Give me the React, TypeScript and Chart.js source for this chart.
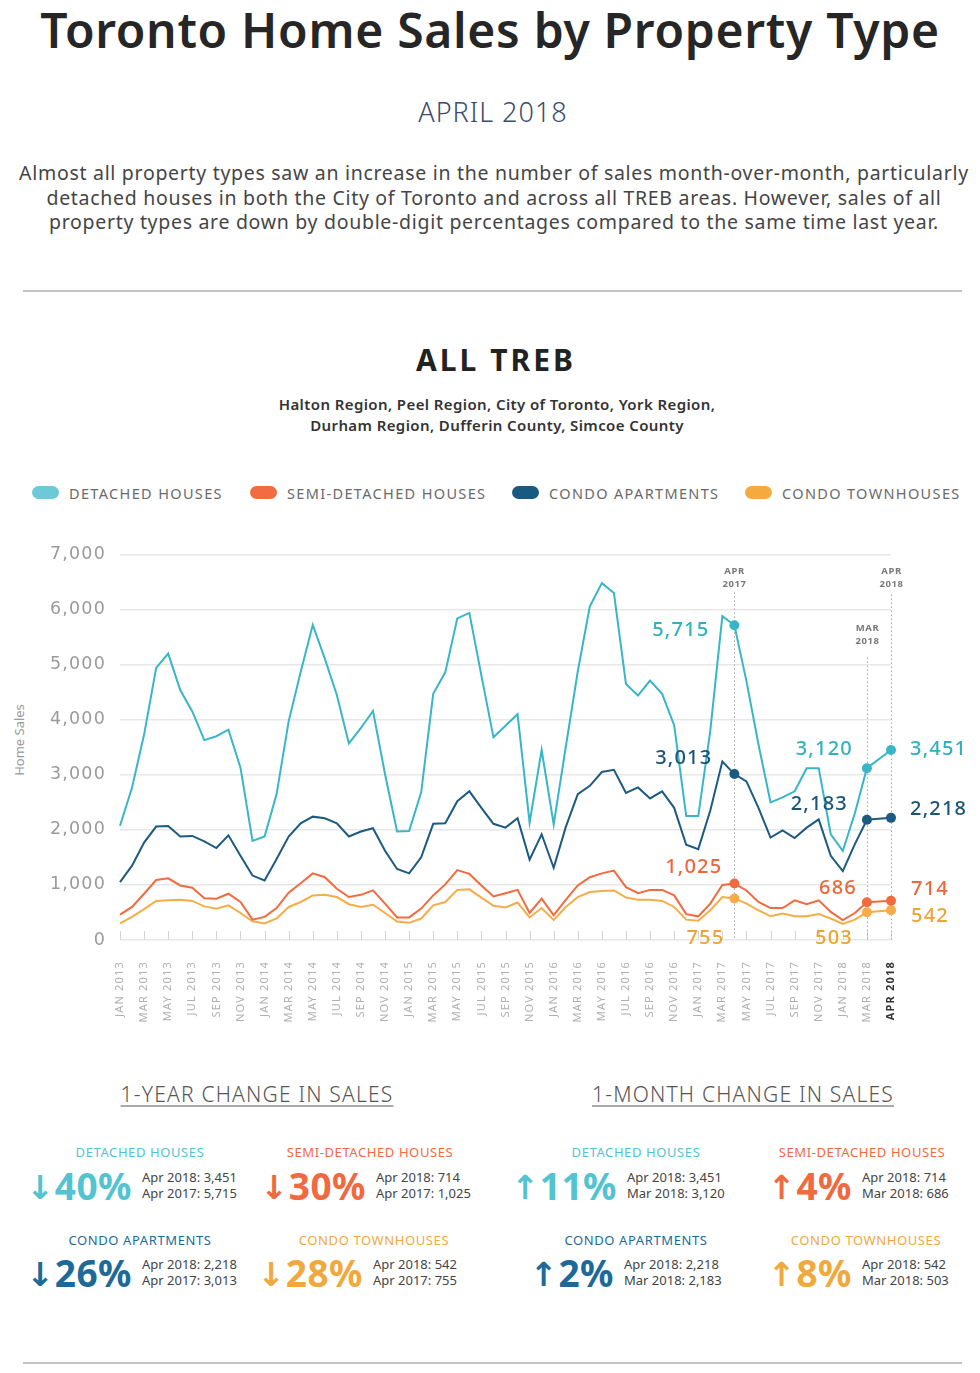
import React, { useEffect, useRef } from 'react';
import { Chart, registerables } from 'chart.js';

Chart.register(...registerables);

// ---------- DATA ----------
const MONTHS = [
  'JAN 2013', 'FEB 2013', 'MAR 2013', 'APR 2013', 'MAY 2013', 'JUN 2013', 'JUL 2013', 'AUG 2013', 'SEP 2013', 'OCT 2013', 'NOV 2013', 'DEC 2013',
  'JAN 2014', 'FEB 2014', 'MAR 2014', 'APR 2014', 'MAY 2014', 'JUN 2014', 'JUL 2014', 'AUG 2014', 'SEP 2014', 'OCT 2014', 'NOV 2014', 'DEC 2014',
  'JAN 2015', 'FEB 2015', 'MAR 2015', 'APR 2015', 'MAY 2015', 'JUN 2015', 'JUL 2015', 'AUG 2015', 'SEP 2015', 'OCT 2015', 'NOV 2015', 'DEC 2015',
  'JAN 2016', 'FEB 2016', 'MAR 2016', 'APR 2016', 'MAY 2016', 'JUN 2016', 'JUL 2016', 'AUG 2016', 'SEP 2016', 'OCT 2016', 'NOV 2016', 'DEC 2016',
  'JAN 2017', 'FEB 2017', 'MAR 2017', 'APR 2017', 'MAY 2017', 'JUN 2017', 'JUL 2017', 'AUG 2017', 'SEP 2017', 'OCT 2017', 'NOV 2017', 'DEC 2017',
  'JAN 2018', 'FEB 2018', 'MAR 2018', '', 'APR 2018',
];

const DETACHED = [
  2075, 2770, 3730, 4940, 5200, 4540, 4150, 3630, 3700, 3820, 3130, 1800,
  1880, 2650, 3970, 4870, 5720, 5110, 4450, 3570, 3850, 4160, 3010, 1970,
  1980, 2680, 4470, 4860, 5840, 5940, 4800, 3680, 3890, 4100, 2130, 3450,
  2100, 3500, 4880, 6060, 6480, 6300, 4650, 4440, 4710, 4470, 3900, 2250,
  2250, 3800, 5880, 5715, 4700, 3550, 2500, 2590, 2700, 3120, 3120, 1920,
  1620, 2300, 3120, null, 3451,
];

const SEMI_DETACHED = [
  460, 600, 840, 1090, 1120, 990, 950, 760, 750, 840, 690, 370,
  420, 580, 860, 1030, 1210, 1140, 930, 780, 820, 900, 660, 410,
  410, 570, 810, 1010, 1270, 1200, 990, 790, 850, 910, 490, 750,
  450, 730, 990, 1140, 1210, 1260, 960, 850, 910, 910, 810, 470,
  430, 660, 1000, 1025, 900, 690, 580, 580, 720, 650, 720, 510,
  360, 490, 686, null, 714,
];

const CONDO_APARTMENTS = [
  1050, 1350, 1770, 2060, 2070, 1880, 1890, 1790, 1670, 1900, 1530, 1170,
  1080, 1470, 1880, 2120, 2240, 2210, 2120, 1880, 1970, 2030, 1620, 1290,
  1210, 1500, 2110, 2120, 2520, 2700, 2400, 2110, 2040, 2210, 1460, 1920,
  1310, 2050, 2650, 2800, 3050, 3090, 2670, 2770, 2570, 2700, 2400, 1730,
  1650, 2350, 3240, 3013, 2880, 2400, 1860, 1990, 1850, 2040, 2190, 1530,
  1250, 1740, 2183, null, 2218,
];

const CONDO_TOWNHOUSES = [
  300, 420, 560, 710, 720, 730, 710, 610, 570, 630, 490, 340,
  300, 390, 600, 690, 810, 820, 780, 650, 600, 640, 490, 335,
  312, 390, 630, 690, 910, 920, 770, 620, 590, 680, 410, 580,
  360, 600, 780, 870, 890, 900, 770, 730, 730, 710, 600, 370,
  350, 540, 780, 755, 660, 540, 430, 480, 430, 430, 470, 390,
  290, 370, 503, null, 542,
];

const SERIES_NAMES = ['DETACHED HOUSES', 'SEMI-DETACHED HOUSES', 'CONDO APARTMENTS', 'CONDO TOWNHOUSES'];
const Y_TICKS = [0, 1000, 2000, 3000, 4000, 5000, 6000, 7000];

// indexes of highlighted months (Apr 2017, Mar 2018, Apr 2018)
const MARKED_INDEXES = [51, 62, 64];
const MARKER_LABELS = [['APR', '2017'], ['MAR', '2018'], ['APR', '2018']];

const YEAR_CHANGE = [
  { name: 'DETACHED HOUSES', arrow: '↓', pct: '40%', l1: 'Apr 2018: 3,451', l2: 'Apr 2017: 5,715' },
  { name: 'SEMI-DETACHED HOUSES', arrow: '↓', pct: '30%', l1: 'Apr 2018: 714', l2: 'Apr 2017: 1,025' },
  { name: 'CONDO APARTMENTS', arrow: '↓', pct: '26%', l1: 'Apr 2018: 2,218', l2: 'Apr 2017: 3,013' },
  { name: 'CONDO TOWNHOUSES', arrow: '↓', pct: '28%', l1: 'Apr 2018: 542', l2: 'Apr 2017: 755' },
];
const MONTH_CHANGE = [
  { name: 'DETACHED HOUSES', arrow: '↑', pct: '11%', l1: 'Apr 2018: 3,451', l2: 'Mar 2018: 3,120' },
  { name: 'SEMI-DETACHED HOUSES', arrow: '↑', pct: '4%', l1: 'Apr 2018: 714', l2: 'Mar 2018: 686' },
  { name: 'CONDO APARTMENTS', arrow: '↑', pct: '2%', l1: 'Apr 2018: 2,218', l2: 'Mar 2018: 2,183' },
  { name: 'CONDO TOWNHOUSES', arrow: '↑', pct: '8%', l1: 'Apr 2018: 542', l2: 'Mar 2018: 503' },
];

// ---------- STYLE ----------
const LINE_COLORS = ['#38b6c7', '#f26a3e', '#1c5a80', '#f6ad48'];
const LABEL_COLORS = ['#2fb1c3', '#f0653a', '#1b5479', '#eda436'];
const LEGEND_COLORS = ['#6ccad6', '#f26b42', '#1a5a82', '#f5aa40'];
const CARD_COLORS = ['#52c3d1', '#f0693f', '#1d6a98', '#f0a93c'];
const FONT = '"Noto Sans", "DejaVu Sans", sans-serif';
const WIDE_FONT = '"DejaVu Sans", sans-serif';

// value label placement: [datasetIndex, dataIndex, align, dx, dy]
const VALUE_LABEL_POS: [number, number, CanvasTextAlign, number, number][] = [
  [0, 51, 'right', -25, 5],
  [2, 51, 'right', -22, -16],
  [1, 51, 'right', -12, -16],
  [3, 51, 'right', -10, 40],
  [0, 62, 'right', -14, -19],
  [2, 62, 'right', -19, -15],
  [1, 62, 'right', -10, -14],
  [3, 62, 'right', -14, 26],
  [0, 64, 'left', 19, -1],
  [2, 64, 'left', 19, -9],
  [1, 64, 'left', 20, -11],
  [3, 64, 'left', 20, 6],
];
const MARKER_STYLE = [
  { lineTop: 38, labelTop: 17 },
  { lineTop: 103, labelTop: 74 },
  { lineTop: 40, labelTop: 17 },
];

const letterSpacingPlugin = {
  id: 'letterSpacing',
  beforeDraw(chart: any) {
    (chart.ctx as any).letterSpacing = '1.2px';
  },
  afterDraw(chart: any) {
    (chart.ctx as any).letterSpacing = '0px';
  },
};

const annotationPlugin = {
  id: 'annotations',
  beforeDatasetsDraw(chart: any) {
    const { ctx, chartArea, scales } = chart;
    const x = scales.x;
    ctx.save();
    (ctx as any).letterSpacing = '0px';
    // inward tick marks
    ctx.strokeStyle = '#d4d4d4';
    ctx.lineWidth = 1;
    for (let i = 0; i < MONTHS.length; i += 2) {
      const px = Math.round(x.getPixelForValue(i)) + 0.5;
      ctx.beginPath();
      ctx.moveTo(px, chartArea.bottom - 9);
      ctx.lineTo(px, chartArea.bottom);
      ctx.stroke();
    }
    // dotted marker lines
    MARKED_INDEXES.forEach((idx, k) => {
      const px = Math.round(x.getPixelForValue(idx)) + 0.5;
      ctx.strokeStyle = '#a8a8a8';
      ctx.setLineDash([1.5, 2.5]);
      ctx.beginPath();
      ctx.moveTo(px, chartArea.top + MARKER_STYLE[k].lineTop);
      ctx.lineTo(px, chartArea.bottom);
      ctx.stroke();
      ctx.setLineDash([]);
      ctx.fillStyle = '#7a7a7a';
      ctx.font = `bold 9.5px ${FONT}`;
      (ctx as any).letterSpacing = '0.6px';
      ctx.textAlign = 'center';
      ctx.textBaseline = 'middle';
      MARKER_LABELS[k].forEach((t, j) => {
        ctx.fillText(t, px, chartArea.top + MARKER_STYLE[k].labelTop + j * 13);
      });
      (ctx as any).letterSpacing = '0px';
    });
    ctx.restore();
  },
  afterDatasetsDraw(chart: any) {
    const { ctx } = chart;
    ctx.save();
    ctx.font = `500 20px ${FONT}`;
    (ctx as any).letterSpacing = '1.2px';
    ctx.textBaseline = 'middle';
    VALUE_LABEL_POS.forEach(([ds, idx, align, dx, dy]) => {
      const el = chart.getDatasetMeta(ds).data[idx];
      const v = chart.data.datasets[ds].data[idx];
      ctx.fillStyle = LABEL_COLORS[ds];
      ctx.textAlign = align;
      ctx.fillText(Number(v).toLocaleString('en-US'), el.x + dx, el.y + dy);
    });
    ctx.restore();
  },
};

function TreBChart() {
  const ref = useRef<HTMLCanvasElement>(null);
  useEffect(() => {
    if (!ref.current) return;
    const seriesData = [DETACHED, SEMI_DETACHED, CONDO_APARTMENTS, CONDO_TOWNHOUSES];
    const chart = new Chart(ref.current, {
      type: 'line',
      data: {
        labels: MONTHS,
        datasets: seriesData.map((d, i) => ({
          label: SERIES_NAMES[i],
          data: d,
          borderColor: LINE_COLORS[i],
          backgroundColor: LINE_COLORS[i],
          borderWidth: 2,
          tension: 0,
          spanGaps: true,
          pointRadius: (c: any) => (MARKED_INDEXES.includes(c.dataIndex) ? 5 : 0),
          pointBorderWidth: 0,
          pointBackgroundColor: LINE_COLORS[i],
        })),
      },
      options: {
        animation: false,
        responsive: true,
        maintainAspectRatio: false,
        events: [],
        layout: { padding: { top: 22, right: 89, left: 0, bottom: 0 } },
        plugins: { legend: { display: false }, tooltip: { enabled: false } },
        scales: {
          x: {
            type: 'category',
            offset: false,
            grid: { display: false },
            border: { display: false },
            afterFit: (s: any) => { s.height = 110; },
            ticks: {
              autoSkip: false,
              minRotation: 90,
              maxRotation: 90,
              padding: 13,
              callback: (_v: any, i: number) => (i % 2 === 0 ? MONTHS[i] : ''),
              color: (c: any) => (c.index === MONTHS.length - 1 ? '#333' : '#b0b0b0'),
              font: (c: any) => ({
                family: FONT,
                size: 11,
                weight: c.index === MONTHS.length - 1 ? 'bold' : 'normal',
              }),
            },
          },
          y: {
            min: 0,
            max: 7000,
            afterFit: (s: any) => { s.width = 120; },
            afterBuildTicks: (s: any) => { s.ticks = Y_TICKS.map((v) => ({ value: v })); },
            grid: { color: '#e8e8e8', lineWidth: 1.6, drawTicks: false },
            border: { display: false },
            ticks: {
              padding: 14,
              color: '#9a9a9a',
              font: { family: WIDE_FONT, size: 17.5 },
              callback: (v: any) => Number(v).toLocaleString('en-US'),
            },
          },
        },
      },
      plugins: [letterSpacingPlugin, annotationPlugin],
    } as any);
    return () => chart.destroy();
  }, []);
  return (
    <div style={{ position: 'absolute', left: 0, top: 530, width: 980, height: 520 }}>
      <canvas ref={ref} />
    </div>
  );
}

type TxtProps = {
  x: number;
  y: number;
  align?: 'left' | 'center' | 'right';
  style?: React.CSSProperties;
  children: React.ReactNode;
};
function Txt({ x, y, align = 'center', style, children }: TxtProps) {
  const tx = align === 'center' ? '-50%' : align === 'right' ? '-100%' : '0';
  return (
    <div
      style={{
        position: 'absolute',
        left: x,
        top: y,
        transform: `translate(${tx}, -50%)`,
        whiteSpace: 'nowrap',
        lineHeight: 1,
        ...style,
      }}
    >
      {children}
    </div>
  );
}

type CardPos = { titleX: number; titleY: number; detailX: number; pctY: number };
const YEAR_POS: CardPos[] = [
  { titleX: 140, titleY: 1152, detailX: 142, pctY: 1186 },
  { titleX: 370, titleY: 1152, detailX: 376, pctY: 1186 },
  { titleX: 140, titleY: 1240, detailX: 142, pctY: 1273 },
  { titleX: 374, titleY: 1240, detailX: 373, pctY: 1273 },
];
const MONTH_POS: CardPos[] = [
  { titleX: 636, titleY: 1152, detailX: 627, pctY: 1186 },
  { titleX: 862, titleY: 1152, detailX: 862, pctY: 1186 },
  { titleX: 636, titleY: 1240, detailX: 624, pctY: 1273 },
  { titleX: 866, titleY: 1240, detailX: 862, pctY: 1273 },
];

function Card({ item, pos, color }: { item: any; pos: CardPos; color: string }) {
  return (
    <>
      <Txt x={pos.titleX} y={pos.titleY} style={{ fontSize: 13, color, letterSpacing: 0.6 }}>
        {item.name}
      </Txt>
      <Txt x={pos.detailX - 10} y={pos.pctY} align="right" style={{ color }}>
        <span style={{ fontSize: 33, fontFamily: WIDE_FONT, fontWeight: 700, marginRight: 1, position: 'relative', top: -1 }}>
          {item.arrow}
        </span>
        <span style={{ fontSize: 37, fontWeight: 700, letterSpacing: 0.5 }}>{item.pct}</span>
      </Txt>
      <Txt x={pos.detailX} y={pos.pctY - 9} align="left" style={{ fontSize: 13, color: '#444' }}>
        {item.l1}
      </Txt>
      <Txt x={pos.detailX} y={pos.pctY + 7} align="left" style={{ fontSize: 13, color: '#444' }}>
        {item.l2}
      </Txt>
    </>
  );
}

const LEGEND_X = [32, 250, 512, 745];
const INTRO_LINES = [
  'Almost all property types saw an increase in the number of sales month-over-month, particularly',
  'detached houses in both the City of Toronto and across all TREB areas. However, sales of all',
  'property types are down by double-digit percentages compared to the same time last year.',
];

export default function App() {
  const headerStyle: React.CSSProperties = {
    fontSize: 21,
    fontWeight: 300,
    color: '#555',
    letterSpacing: 1.2,
    textDecoration: 'underline',
    textUnderlineOffset: 4,
    textDecorationThickness: 1,
  };
  return (
    <div
      style={{
        position: 'absolute',
        left: 0,
        top: 0,
        width: 980,
        height: 1373,
        background: '#fff',
        fontFamily: FONT,
        overflow: 'hidden',
      }}
    >
      <Txt x={490} y={30} style={{ fontSize: 48, fontWeight: 600, color: '#262626', letterSpacing: 0.7 }}>
        Toronto Home Sales by Property Type
      </Txt>
      <Txt x={493} y={111} style={{ fontSize: 27, fontWeight: 300, color: '#3c4a6e', letterSpacing: 1 }}>
        APRIL 2018
      </Txt>
      {INTRO_LINES.map((t, i) => (
        <Txt key={i} x={494} y={173 + i * 24.5} style={{ fontSize: 19.5, color: '#454545', letterSpacing: 0.7 }}>
          {t}
        </Txt>
      ))}
      <div style={{ position: 'absolute', left: 23, top: 290, width: 939, height: 2, background: '#c4c4c4' }} />

      <Txt x={496} y={360} style={{ fontSize: 30, fontWeight: 700, color: '#222', letterSpacing: 3 }}>
        ALL TREB
      </Txt>
      <Txt x={497} y={404} style={{ fontSize: 15, fontWeight: 600, color: '#333', letterSpacing: 0.4 }}>
        Halton Region, Peel Region, City of Toronto, York Region,
      </Txt>
      <Txt x={497} y={425} style={{ fontSize: 15, fontWeight: 600, color: '#333', letterSpacing: 0.4 }}>
        Durham Region, Dufferin County, Simcoe County
      </Txt>

      {SERIES_NAMES.map((n, i) => (
        <React.Fragment key={n}>
          <div
            style={{
              position: 'absolute',
              left: LEGEND_X[i],
              top: 486,
              width: 27,
              height: 13,
              borderRadius: 7,
              background: LEGEND_COLORS[i],
            }}
          />
          <Txt x={LEGEND_X[i] + 37} y={492.5} align="left" style={{ fontSize: 14.5, color: '#6a6a6a', letterSpacing: 1.35 }}>
            {n}
          </Txt>
        </React.Fragment>
      ))}

      <Txt x={19} y={740} style={{ fontSize: 13, color: '#9a9a9a', transform: 'translate(-50%, -50%) rotate(-90deg)' }}>
        Home Sales
      </Txt>

      <TreBChart />

      <Txt x={257} y={1094} style={headerStyle}>
        1-YEAR CHANGE IN SALES
      </Txt>
      <Txt x={743} y={1094} style={headerStyle}>
        1-MONTH CHANGE IN SALES
      </Txt>

      {YEAR_CHANGE.map((it, i) => (
        <Card key={'y' + i} item={it} pos={YEAR_POS[i]} color={CARD_COLORS[i]} />
      ))}
      {MONTH_CHANGE.map((it, i) => (
        <Card key={'m' + i} item={it} pos={MONTH_POS[i]} color={CARD_COLORS[i]} />
      ))}

      <div style={{ position: 'absolute', left: 23, top: 1362, width: 939, height: 2, background: '#c4c4c4' }} />
    </div>
  );
}
